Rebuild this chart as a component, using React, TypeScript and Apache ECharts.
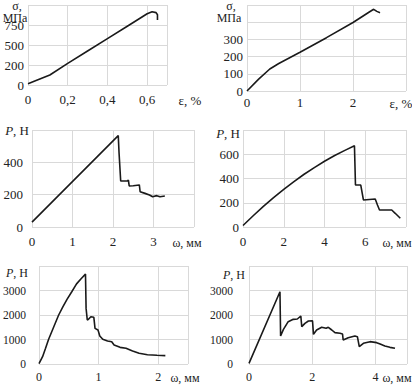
import React, { useEffect, useRef } from "react";
import * as echarts from "echarts";

// Panel 1: σ–ε (upper left)
const p1Strain = [0, 0.05, 0.11, 0.2, 0.3, 0.4, 0.5, 0.6, 0.625, 0.645, 0.652, 0.652];
const p1Stress = [15, 65, 125, 270, 425, 580, 735, 890, 916, 905, 878, 812];
const p1XTicks = [0, 0.2, 0.4, 0.6];
const p1XLabels = ["0", "0,2", "0,4", "0,6"];
const p1YTicks = [0, 250, 500, 750];
const p1YLabels = ["0", "200", "500", "750"];

// Panel 2: σ–ε (upper right)
const p2Strain = [0, 0.22, 0.43, 0.6, 1, 1.5, 2, 2.3, 2.39, 2.45, 2.51];
const p2Stress = [0, 69, 128, 160, 225, 310, 398, 458, 475, 463, 455];
const p2XTicks = [0, 1, 2];
const p2XLabels = ["0", "1", "2"];
const p2YTicks = [0, 100, 200, 300];
const p2YLabels = ["0", "100", "200", "300"];

// Panel 3: P–ω (middle left)
const p3Disp = [0, 2.13, 2.15, 2.19, 2.36, 2.38, 2.4, 2.5, 2.65, 2.67, 2.79, 2.9, 2.98, 3.08, 3.16, 3.28];
const p3Load = [30, 565, 456, 285, 285, 290, 254, 255, 260, 218, 208, 198, 187, 194, 187, 192];
const p3XTicks = [0, 1, 2, 3];
const p3XLabels = ["0", "1", "2", "3"];
const p3YTicks = [0, 200, 400];
const p3YLabels = ["0", "200", "400"];

// Panel 4: P–ω (middle right)
const p4Disp = [0, 0.5, 1, 1.5, 2, 2.5, 3, 3.5, 4, 4.5, 5, 5.47, 5.52, 5.78, 5.91, 6.49, 6.6, 6.7, 7.3, 7.47, 7.72];
const p4Load = [12, 93, 170, 243, 311, 375, 435, 490, 542, 590, 632, 670, 346, 346, 223, 231, 181, 140, 140, 113, 72];
const p4XTicks = [0, 2, 4, 6];
const p4XLabels = ["0", "2", "4", "6"];
const p4YTicks = [0, 200, 400, 600];
const p4YLabels = ["0", "200", "400", "600"];

// Panel 5: P–ω (lower left)
const p5Disp = [0, 0.06, 0.11, 0.16, 0.25, 0.33, 0.4, 0.47, 0.55, 0.63, 0.71, 0.78, 0.79, 0.81, 0.83, 0.87, 0.92, 0.94, 0.99, 1.02, 1.07, 1.15, 1.22, 1.26, 1.36, 1.46, 1.57, 1.68, 1.82, 1.98, 2.12];
const p5Load = [20, 300, 640, 1000, 1530, 2000, 2330, 2640, 2950, 3270, 3490, 3670, 2270, 1796, 1823, 1931, 1905, 1456, 1388, 1143, 1008, 939, 910, 776, 680, 640, 530, 437, 380, 355, 340];
const p5XTicks = [0, 1, 2];
const p5XLabels = ["0", "1", "2"];
const p5YTicks = [0, 1000, 2000, 3000];
const p5YLabels = ["0", "1000", "2000", "3000"];

// Panel 6: P–ω (lower right)
const p6Disp = [0, 0.98, 1.0, 1.09, 1.24, 1.4, 1.53, 1.64, 1.67, 1.77, 1.88, 2.01, 2.04, 2.14, 2.3, 2.44, 2.51, 2.62, 2.72, 2.88, 2.96, 2.98, 3.14, 3.35, 3.43, 3.49, 3.62, 3.83, 4.04, 4.15, 4.3, 4.46, 4.62];
const p6Load = [27, 2951, 1143, 1415, 1727, 1823, 1837, 1960, 1524, 1660, 1755, 1768, 1211, 1388, 1497, 1456, 1497, 1388, 1279, 1252, 1224, 980, 1075, 1143, 1115, 707, 844, 912, 871, 816, 735, 680, 640];
const p6XTicks = [0, 2, 4];
const p6XLabels = ["0", "2", "4"];
const p6YTicks = [0, 1000, 2000, 3000];
const p6YLabels = ["0", "1000", "2000", "3000"];

const FONT = "'Liberation Serif', 'Times New Roman', 'DejaVu Serif', serif";
const TXT = "#222222";
const GRID = "#d9d9d9";

function fmt(ticks: number[], labels: string[]) {
  return (v: number) => {
    const i = ticks.findIndex((t) => Math.abs(t - v) < 1e-6);
    return i >= 0 ? labels[i] : "";
  };
}

type PanelDef = {
  grid: { left: number; top: number; width: number; height: number };
  xMax: number; xInt: number; yMax: number; yInt: number;
  xs: number[]; ys: number[];
  xt: number[]; xl: string[]; yt: number[]; yl: string[];
  xMargin: number; yMargin: number; xFont: number; yFont: number;
};

const panels: PanelDef[] = [
  { grid: { left: 28, top: 5, width: 139, height: 80 }, xMax: 0.7, xInt: 0.2, yMax: 1000, yInt: 250,
    xs: p1Strain, ys: p1Stress, xt: p1XTicks, xl: p1XLabels, yt: p1YTicks, yl: p1YLabels, xMargin: 8, yMargin: 4, xFont: 13, yFont: 13 },
  { grid: { left: 247, top: 5, width: 159, height: 86 }, xMax: 3, xInt: 1, yMax: 500, yInt: 100,
    xs: p2Strain, ys: p2Stress, xt: p2XTicks, xl: p2XLabels, yt: p2YTicks, yl: p2YLabels, xMargin: 5, yMargin: 4, xFont: 13, yFont: 13 },
  { grid: { left: 32, top: 130, width: 162, height: 97 }, xMax: 4, xInt: 1, yMax: 600, yInt: 200,
    xs: p3Disp, ys: p3Load, xt: p3XTicks, xl: p3XLabels, yt: p3YTicks, yl: p3YLabels, xMargin: 8, yMargin: 9, xFont: 13, yFont: 13 },
  { grid: { left: 243, top: 130, width: 163, height: 97 }, xMax: 8, xInt: 2, yMax: 800, yInt: 200,
    xs: p4Disp, ys: p4Load, xt: p4XTicks, xl: p4XLabels, yt: p4YTicks, yl: p4YLabels, xMargin: 8, yMargin: 4, xFont: 13, yFont: 13 },
  { grid: { left: 37, top: 266, width: 151, height: 98 }, xMax: 2.5, xInt: 1, yMax: 4000, yInt: 1000,
    xs: p5Disp, ys: p5Load, xt: p5XTicks, xl: p5XLabels, yt: p5YTicks, yl: p5YLabels, xMargin: 7, yMargin: 13, xFont: 12, yFont: 11.5 },
  { grid: { left: 249, top: 266, width: 158, height: 98 }, xMax: 5, xInt: 2, yMax: 4000, yInt: 1000,
    xs: p6Disp, ys: p6Load, xt: p6XTicks, xl: p6XLabels, yt: p6YTicks, yl: p6YLabels, xMargin: 7, yMargin: 16, xFont: 12, yFont: 11.5 },
];

function nameText(text: string, x: number, y: number, align: string, size: number, rich = false) {
  return {
    type: "text",
    x, y,
    style: {
      text,
      fill: TXT,
      fontFamily: FONT,
      fontSize: size,
      align,
      verticalAlign: "middle",
      rich: rich ? { i: { fontStyle: "italic", fontFamily: FONT, fontSize: size, fill: TXT } } : undefined,
    },
  };
}

export default function App() {
  const ref = useRef<HTMLDivElement>(null);
  useEffect(() => {
    if (!ref.current) return;
    const chart = echarts.init(ref.current, undefined, { renderer: "svg" });
    const option: any = {
      animation: false,
      backgroundColor: "#ffffff",
      textStyle: { fontFamily: FONT },
      grid: panels.map((p) => ({ ...p.grid, containLabel: false })),
      xAxis: panels.map((p, i) => ({
        type: "value", gridIndex: i, min: 0, max: p.xMax, interval: p.xInt,
        axisLine: { show: false }, axisTick: { show: false },
        splitLine: { show: true, lineStyle: { color: GRID, width: 1 } },
        axisLabel: { color: TXT, fontFamily: FONT, fontSize: p.xFont, margin: p.xMargin, formatter: fmt(p.xt, p.xl), showMaxLabel: false },
      })),
      yAxis: panels.map((p, i) => ({
        type: "value", gridIndex: i, min: 0, max: p.yMax, interval: p.yInt,
        axisLine: { show: false }, axisTick: { show: false },
        splitLine: { show: true, lineStyle: { color: GRID, width: 1 } },
        axisLabel: { color: TXT, fontFamily: FONT, fontSize: p.yFont, margin: p.yMargin, formatter: fmt(p.yt, p.yl) },
      })),
      series: panels.map((p, i) => ({
        type: "line", xAxisIndex: i, yAxisIndex: i,
        data: p.xs.map((x, k) => [x, p.ys[k]]),
        showSymbol: false, symbol: "none",
        lineStyle: { color: "#1a1a1a", width: 1.6 },
        silent: true,
      })),
      graphic: [
        nameText("σ,", 17, 6, "center", 12),
        nameText("МПа", 15, 17.5, "center", 12),
        nameText("σ,", 231, 6, "center", 12),
        nameText("МПа", 229, 17.5, "center", 12),
        nameText("{i|P}, Н", 29, 130, "right", 13, true),
        nameText("{i|P}, Н", 240, 133, "right", 13, true),
        nameText("{i|P}, Н", 28, 273, "right", 12, true),
        nameText("{i|P}, Н", 245, 275, "right", 12, true),
        nameText("ε, %", 190, 100, "center", 13),
        nameText("ε, %", 401, 103, "center", 13),
        nameText("ω, мм", 187, 243, "center", 12),
        nameText("ω, мм", 397, 243, "center", 12),
        nameText("ω, мм", 185, 378, "center", 12),
        nameText("ω, мм", 397, 378, "center", 12),
      ],
    };
    chart.setOption(option);
    return () => chart.dispose();
  }, []);
  return (
    <div
      ref={ref}
      style={{ position: "fixed", left: 0, top: 0, width: 412, height: 386, background: "#fff" }}
    />
  );
}
